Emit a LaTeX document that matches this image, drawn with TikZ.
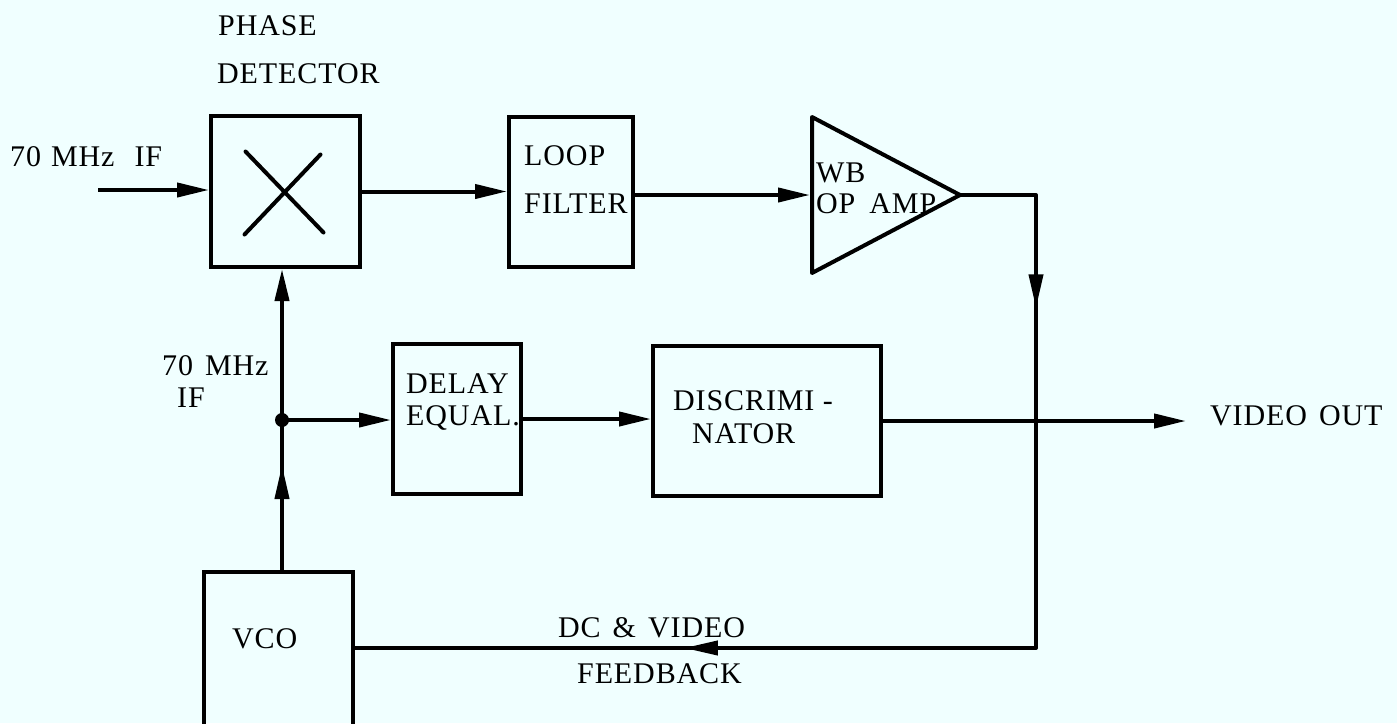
\documentclass[tikz,border=0pt]{standalone}
\usepackage{fontspec}
\setmainfont{Liberation Serif}[LetterSpace=3]
\usetikzlibrary{arrows.meta,decorations.markings}
\definecolor{bg}{RGB}{240,255,255}
\begin{document}
\begin{tikzpicture}[x=1pt,y=-1pt,
  line/.style={line width=4pt},
  box/.style={draw,line width=4pt,rectangle,inner sep=0pt},
  lbl/.style={anchor=base west,inner sep=0pt,font=\fontsize{30}{32}\selectfont},
  tip/.style={-{Triangle[length=32pt,width=14pt]}},
  midtip/.style={postaction={decorate},decoration={markings,mark=at position #1 with {\arrow{Triangle[length=34pt,width=14pt]}}}}
]
\fill[bg] (0,0) rectangle (1397,723);
\useasboundingbox (0,0) rectangle (1397,723);

% boxes
\node[box,minimum width=149pt,minimum height=151pt] (pd) at (285.5,191.5) {};
\node[box,minimum width=124pt,minimum height=150pt] (lf) at (571,192) {};
\node[box,minimum width=128pt,minimum height=150pt] (del) at (457,419) {};
\node[box,minimum width=228pt,minimum height=150pt] (dis) at (767,421) {};
\node[box,minimum width=149pt,minimum height=170pt] (vco) at (278.5,657) {};

% multiplier cross
\draw[line,line cap=round] ([shift={(-40,-40)}]pd.center) -- ([shift={(38,41)}]pd.center);
\draw[line,line cap=round] ([shift={(35,-37)}]pd.center) -- ([shift={(-41,43)}]pd.center);

% op amp
\draw[line,line join=round] (812,117) -- (960,195) coordinate (ampout) -- (812,273) -- cycle;
\coordinate (ampin) at (810,195);

% coordinates
\coordinate (in) at (98,190);
\coordinate (dot) at (282,420);
\coordinate (c1) at (1036,195);
\coordinate (c2) at (1036,648);
\coordinate (vout) at (1186,423);

% connectors
\draw[line,tip] (in) -- (in -| pd.west);
\draw[line,tip] (pd.east) -- (pd.east -| lf.west);
\draw[line,tip] (lf.east |- ampin) -- (ampin);
\draw[line,line join=round] (ampout) -- (c1) -- (c2) -- (c2 -| vco.east);
\draw[line,midtip=0.25] (c1) -- (c2);
\draw[line,midtip=0.517] (c2) -- (c2 -| vco.east);
\draw[line,midtip=0.7] (vco.north -| dot) -- (dot);
\draw[line,tip] (dot) -- (dot |- pd.south);
\fill (dot) circle (7pt);
\draw[line,tip] (dot) -- (dot -| del.west);
\draw[line,tip] (del.east) -- (del.east -| dis.west);
\draw[line,tip] (dis.east) -- (vout |- dis.east);

% labels
\node[lbl] (tphase) at (218,35) {PHASE};
\node[lbl] (tdet) at (217,83) {DETECTOR};
\node[lbl] (tin) at (10,166) {70\hspace{10pt}MHz\hspace{20pt}IF};
\node[lbl] (tloop) at (524,165) {LOOP};
\node[lbl] (tfil) at (524,213) {FILTER};
\node[lbl] (twb) at (816,182) {WB};
\node[lbl] (topa) at (816,213) {OP\hspace{14pt}AMP};
\node[lbl] (t70) at (162,375) {70\hspace{12pt}MHz};
\node[lbl] (tif) at (177,407) {IF};
\node[lbl] (tdel) at (406,393) {DELAY};
\node[lbl] (teq) at (406,425) {EQUAL.};
\node[lbl] (tdis) at (673,410) {DISCRIMI -};
\node[lbl] (tnat) at (692,443) {NATOR};
\node[lbl] (tvid) at (1210,425) {VIDEO\hspace{12pt}OUT};
\node[lbl] (tvco) at (232,648) {VCO};
\node[lbl] (tdc) at (558,637) {DC\hspace{12pt}\&\hspace{12pt}VIDEO};
\node[lbl] (tfb) at (577,683) {FEEDBACK};
\end{tikzpicture}
\end{document}
